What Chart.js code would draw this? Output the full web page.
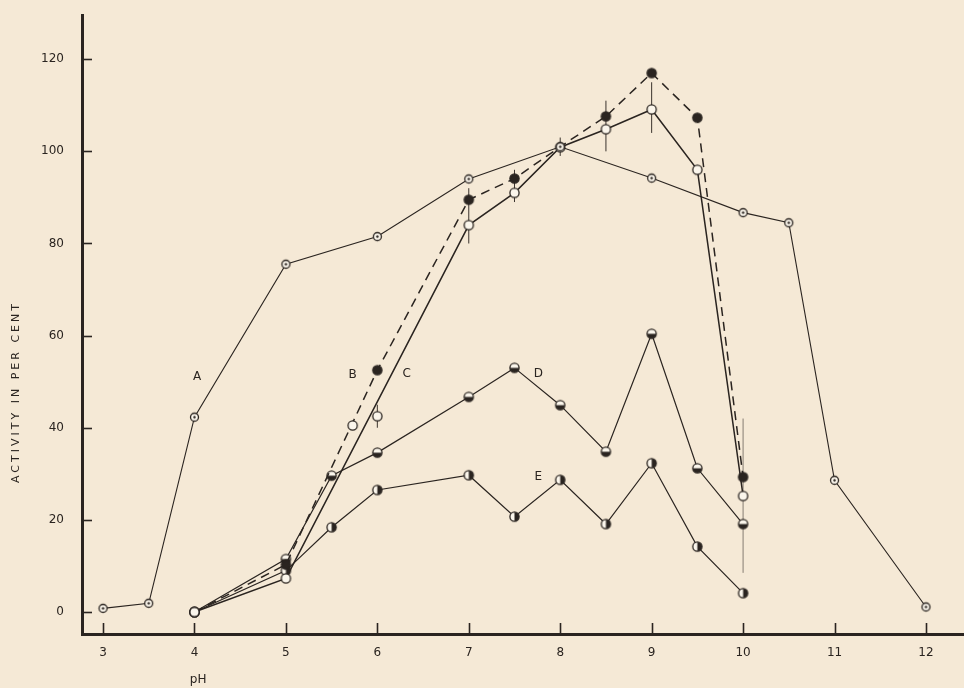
<!DOCTYPE html>
<html>
<head>
<meta charset="utf-8">
<script src="https://cdn.jsdelivr.net/npm/chart.js@4.4.0/dist/chart.umd.min.js"></script>
<style>
  html, body { margin: 0; padding: 0; background: #f5e9d6; }
  #wrap { width: 964px; height: 688px; position: relative; }
</style>
</head>
<body>
<div id="wrap"><canvas id="c"></canvas></div>
<script>
// pH values and activity (per cent)
var phA = [3, 3.5, 4, 5, 6, 7, 8, 9, 10, 10.5, 11, 12];
var actA = [0.8, 1.9, 42.3, 75.5, 81.5, 94, 101, 94.2, 86.7, 84.5, 28.6, 1.1];

var phB = [4, 5, 6, 7, 7.5, 8, 8.5, 9, 9.5, 10];
var actB = [0, 10.3, 52.5, 89.5, 94.1, 101, 107.6, 117, 107.3, 29.3];

var phC = [4, 5, 7, 7.5, 8, 8.5, 9, 9.5, 10];
var actC = [0, 7.3, 84, 91, 100.9, 104.8, 109.1, 96, 25.2];

// single open circles that sit off the C line
var phExtra = [5.73, 6];
var actExtra = [40.5, 42.5];

var phD = [4, 5, 5.5, 6, 7, 7.5, 8, 8.5, 9, 9.5, 10];
var actD = [0, 11.5, 29.6, 34.6, 46.7, 53, 44.9, 34.8, 60.4, 31.2, 19.1];

var phE = [4, 5, 5.5, 6, 7, 7.5, 8, 8.5, 9, 9.5, 10];
var actE = [0, 9, 18.4, 26.5, 29.7, 20.7, 28.7, 19.1, 32.3, 14.2, 4.1];

// vertical range bars
var errPh = [6, 7, 7.5, 8, 8.5, 9, 10];
var errLow = [40, 80, 89, 99, 100, 104, 8.5];
var errHigh = [45, 92, 96, 103, 111, 115, 42];

var xTicks = [3, 4, 5, 6, 7, 8, 9, 10, 11, 12];
var yTicks = [0, 20, 40, 60, 80, 100, 120];

var curveNames = ['A', 'B', 'C', 'D', 'E'];
var namePh = [4.03, 5.73, 6.32, 7.76, 7.76];
var nameAct = [51, 51.5, 51.6, 51.7, 29.4];

var ink = '#2a2420';
var font = '"DejaVu Sans", sans-serif';

function pts(xs, ys) {
    return xs.map(function(x, i) { return { x: x, y: ys[i] }; });
}

function makeMark(kind) {
    var c = document.createElement('canvas');
    c.width = 13; c.height = 13;
    var g = c.getContext('2d');
    var r = kind === 'a' ? 4 : 4.6;
    g.beginPath(); g.arc(6.5, 6.5, r, 0, Math.PI * 2);
    g.fillStyle = kind === 'black' ? ink : '#fbf6ec';
    g.fill();
    g.fillStyle = ink;
    if (kind === 'd') {
        g.beginPath(); g.arc(6.5, 6.5, r, 0, Math.PI); g.closePath(); g.fill();
    }
    if (kind === 'e') {
        g.beginPath(); g.arc(6.5, 6.5, r, -Math.PI / 2, Math.PI / 2); g.closePath(); g.fill();
    }
    g.beginPath(); g.arc(6.5, 6.5, r, 0, Math.PI * 2);
    g.lineWidth = 1.3; g.strokeStyle = ink; g.stroke();
    if (kind === 'a') {
        g.beginPath(); g.arc(6.5, 6.5, 1.2, 0, Math.PI * 2); g.fill();
    }
    return c;
}

var markA = makeMark('a');
var markOpen = makeMark('open');
var markBlack = makeMark('black');
var markD = makeMark('d');
var markE = makeMark('e');

var extras = {
    id: 'extras',
    beforeDatasetsDraw: function(chart) {
        var ctx = chart.ctx, x = chart.scales.x, y = chart.scales.y;
        ctx.save();
        errPh.forEach(function(p, i) {
            var px = x.getPixelForValue(p);
            ctx.beginPath();
            ctx.moveTo(px, y.getPixelForValue(errLow[i]));
            ctx.lineTo(px, y.getPixelForValue(errHigh[i]));
            ctx.lineWidth = p === 10 ? 0.8 : 1;
            ctx.strokeStyle = p === 10 ? '#6a625a' : '#3a332d';
            ctx.stroke();
        });
        ctx.restore();
    },
    afterDraw: function(chart) {
        var ctx = chart.ctx, x = chart.scales.x, y = chart.scales.y;
        var area = chart.chartArea;
        ctx.save();
        ctx.strokeStyle = ink;
        ctx.lineWidth = 1.6;
        // inward tick marks
        yTicks.forEach(function(v) {
            var py = Math.round(y.getPixelForValue(v)) + 0.5;
            ctx.beginPath(); ctx.moveTo(area.left, py); ctx.lineTo(area.left + 10, py); ctx.stroke();
        });
        xTicks.forEach(function(v) {
            var px = Math.round(x.getPixelForValue(v)) + 0.5;
            ctx.beginPath(); ctx.moveTo(px, area.bottom); ctx.lineTo(px, area.bottom - 11); ctx.stroke();
        });
        // curve letters
        ctx.fillStyle = ink;
        ctx.font = '12px ' + font;
        ctx.textAlign = 'center';
        ctx.textBaseline = 'middle';
        curveNames.forEach(function(n, i) {
            ctx.fillText(n, x.getPixelForValue(namePh[i]), y.getPixelForValue(nameAct[i]));
        });
        // axis titles
        ctx.fillText('pH', x.getPixelForValue(4.04), 680);
        ctx.translate(16, 392);
        ctx.rotate(-Math.PI / 2);
        ctx.font = '11px ' + font;
        ctx.letterSpacing = '3px';
        ctx.fillText('ACTIVITY IN PER CENT', 0, 0);
        ctx.restore();
    }
};

new Chart(document.getElementById('c').getContext('2d'), {
    type: 'scatter',
    data: {
        datasets: [
            { label: 'A', data: pts(phA, actA), showLine: true, borderColor: ink, borderWidth: 1.1, pointStyle: markA },
            { label: 'extra', data: pts(phExtra, actExtra), showLine: false, pointStyle: markOpen },
            { label: 'C', data: pts(phC, actC), showLine: true, borderColor: ink, borderWidth: 1.5, pointStyle: markOpen },
            { label: 'B', data: pts(phB, actB), showLine: true, borderColor: ink, borderWidth: 1.5, borderDash: [9, 6],
              pointStyle: markBlack, pointRadius: phB.map(function(p) { return p === 8 ? 0 : 5; }) },
            { label: 'D', data: pts(phD, actD), showLine: true, borderColor: ink, borderWidth: 1.2, pointStyle: markD },
            { label: 'E', data: pts(phE, actE), showLine: true, borderColor: ink, borderWidth: 1.2, pointStyle: markE }
        ]
    },
    options: {
        responsive: true,
        maintainAspectRatio: false,
        animation: false,
        layout: { autoPadding: false, padding: { top: 15, right: 0, left: 0, bottom: 0 } },
        plugins: { legend: { display: false }, tooltip: { enabled: false } },
        scales: {
            x: {
                type: 'linear',
                min: 2.77,
                max: 12.416,
                afterBuildTicks: function(s) { s.ticks = xTicks.map(function(v) { return { value: v }; }); },
                afterFit: function(s) { s.height = 54; s.paddingLeft = 0; s.paddingRight = 0; },
                grid: { drawOnChartArea: false, drawTicks: false },
                border: { color: ink, width: 3 },
                ticks: { color: ink, padding: 12, font: { family: font, size: 12 } }
            },
            y: {
                type: 'linear',
                min: -4.77,
                max: 129.6,
                afterBuildTicks: function(s) { s.ticks = yTicks.map(function(v) { return { value: v }; }); },
                afterFit: function(s) { s.width = 82; s.paddingTop = 0; s.paddingBottom = 0; },
                grid: { drawOnChartArea: false, drawTicks: false },
                border: { color: ink, width: 3 },
                ticks: { color: ink, padding: 18, font: { family: font, size: 12 } }
            }
        }
    },
    plugins: [extras]
});
</script>
</body>
</html>
